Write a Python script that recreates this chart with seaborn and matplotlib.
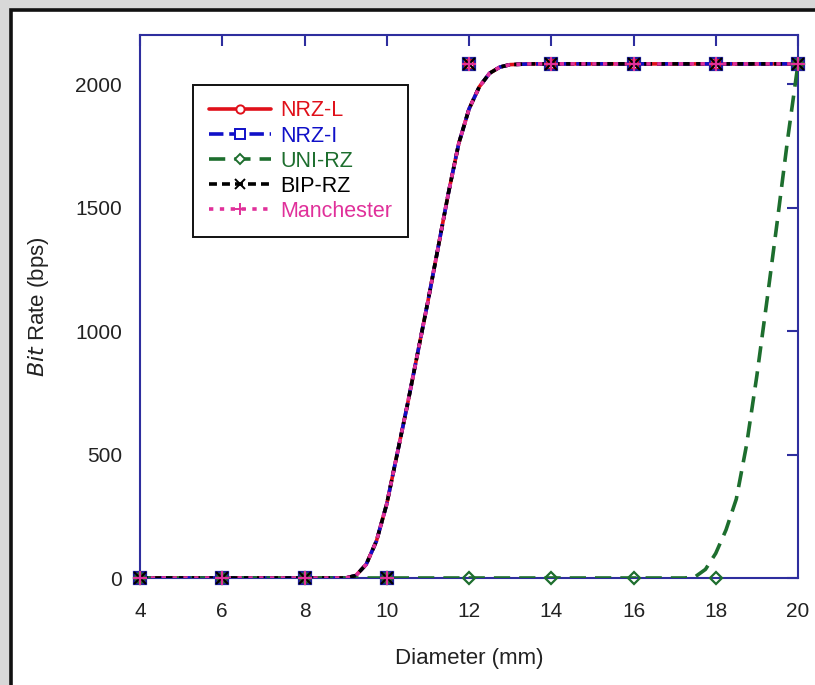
import matplotlib
matplotlib.use("Agg")
import matplotlib.pyplot as plt
from matplotlib.lines import Line2D
from matplotlib.patches import Rectangle
import seaborn as sns
import pandas as pd

# Smoothed bit-rate curves (bps) against channel diameter (mm)
diameter_fit = [4, 8, 9.0, 9.25, 9.5, 9.75, 10.0, 10.25, 10.5, 10.75, 11.0,
                11.25, 11.5, 11.75, 12.0, 12.25, 12.5, 12.75, 13.0, 13.5, 20]
rate_fit = [0, 0, 0, 10, 55, 150, 300, 500, 700, 910, 1120,
            1340, 1560, 1760, 1900, 1990, 2045, 2070, 2080, 2083, 2083]

diameter_uni_fit = [4, 17.25, 17.5, 17.75, 18.0, 18.25, 18.5, 18.75,
                    19.0, 19.25, 19.5, 19.75, 20.0]
rate_uni_fit = [0, 0, 5, 35, 100, 195, 320, 540, 820, 1130, 1450, 1780, 2083]

# Computed sample points
diameter_pts = [4, 6, 8, 10, 12, 14, 16, 18, 20]
rate_pts = [0, 0, 0, 0, 2083, 2083, 2083, 2083, 2083]
rate_uni_pts = [0, 0, 0, 0, 0, 0, 0, 0, 2083]

schemes = ["NRZ-L", "NRZ-I", "UNI-RZ", "BIP-RZ", "Manchester"]
colors = ["#e0101a", "#1010c8", "#1d6e2e", "#000000", "#e0309a"]
dash_styles = [None, (4, 1.6), (4.5, 2.5), (2.2, 1.4), (1.2, 1.8)]
markers = ["o", "s", "D", "x", "+"]
marker_sizes = [7, 9, 6.5, 8.5, 10]

xticks = [4, 6, 8, 10, 12, 14, 16, 18, 20]
yticks = [0, 500, 1000, 1500, 2000]

sns.set_theme(style="white")
plt.rcParams["font.family"] = ["Liberation Sans", "DejaVu Sans"]

fig = plt.figure(figsize=(8.15, 6.85), dpi=100)
fig.patch.set_facecolor("#d8d8d8")
# white page with a dark frame, running off the right and bottom edges
page = Rectangle((11 / 815, -0.2), 1.2, 1.2 - 9.5 / 685,
                 transform=fig.transFigure, facecolor="white",
                 edgecolor="#111111", linewidth=2.6, zorder=-10)
fig.add_artist(page)

ax = fig.add_axes([140 / 815, 1 - 578 / 685, (798 - 140) / 815, (578 - 35) / 685])
ax.set_facecolor("white")

handles = []
for i, name in enumerate(schemes):
    if name == "UNI-RZ":
        xs, ys, ym = diameter_uni_fit, rate_uni_fit, rate_uni_pts
    else:
        xs, ys, ym = diameter_fit, rate_fit, rate_pts
    df = pd.DataFrame({"d": xs, "r": ys})
    sns.lineplot(data=df, x="d", y="r", ax=ax, color=colors[i], linewidth=2.6,
                 legend=False, zorder=3 + i)
    ln = ax.lines[-1]
    if dash_styles[i] is not None:
        ln.set_dashes(dash_styles[i])
    ax.plot(diameter_pts, ym, linestyle="none", marker=markers[i],
            markersize=marker_sizes[i], markerfacecolor="none",
            markeredgecolor=colors[i] if name not in ("NRZ-I",) else "#2020a0",
            markeredgewidth=1.6, zorder=9 + i, clip_on=False)
    h = Line2D([], [], color=colors[i], linewidth=2.6, marker=markers[i],
               markersize=marker_sizes[i] * 0.85, markerfacecolor="white",
               markeredgecolor=colors[i], markeredgewidth=1.4)
    if dash_styles[i] is not None:
        h.set_dashes(dash_styles[i])
    handles.append(h)

ax.set_xlim(4, 20)
ax.set_ylim(0, 2200)
ax.set_xticks(xticks)
ax.set_yticks(yticks)

spine_color = "#2e2e9e"
for sp in ax.spines.values():
    sp.set_color(spine_color)
    sp.set_linewidth(1.5)
ax.tick_params(axis="both", which="both", direction="in", length=8, width=1.5,
               color=spine_color, labelcolor="#222222", labelsize=15,
               top=True, right=True)
ax.tick_params(axis="x", pad=17)
ax.tick_params(axis="y", pad=13)

ax.set_xlabel("Diameter (mm)", fontsize=16, color="#222222", labelpad=20)
ax.set_ylabel(r"$\it{Bit}$ Rate (bps)", fontsize=16, color="#222222", labelpad=17)

leg = ax.legend(handles, schemes, loc="upper left",
                bbox_to_anchor=((193 - 140) / 658, (578 - 85) / 543),
                fontsize=15.5, numpoints=1, handlelength=2.9, handletextpad=0.45,
                labelspacing=0.19, borderpad=0.72, borderaxespad=0,
                frameon=True, fancybox=False, framealpha=1)
leg.get_frame().set_edgecolor("#111111")
leg.get_frame().set_linewidth(1.4)
for txt, c in zip(leg.get_texts(), colors):
    txt.set_color(c)

fig.savefig("out.png", dpi=100, facecolor=fig.get_facecolor())
